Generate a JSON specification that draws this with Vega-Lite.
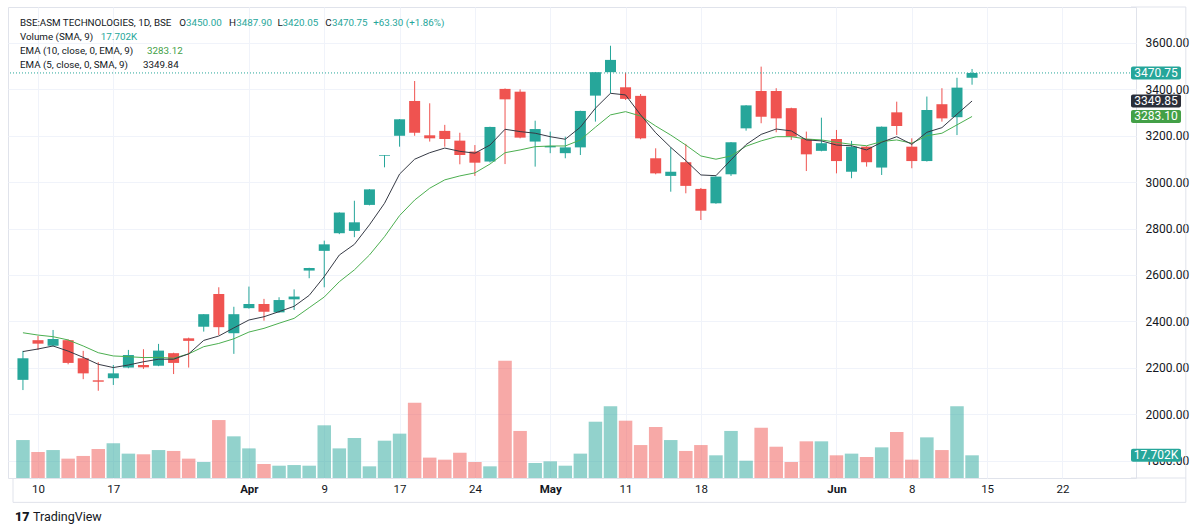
{
  "$schema": "https://vega.github.io/schema/vega-lite/v6.json",
  "width": 1128,
  "height": 471,
  "autosize": "none",
  "padding": {"left": 8, "top": 7, "right": 64, "bottom": 54},
  "background": "white",
  "config": {"view": {"stroke": "#e0e3eb"}, "font": "Roboto", "text": {"font": "Roboto"}},
  "datasets": {
    "k": [
      {"i":0,"o":2148,"h":2273,"l":2104,"c":2241,"v":29600,"e5":2270,"e10":2351},
      {"i":1,"o":2319,"h":2337,"l":2277,"c":2304,"v":20300,"e5":2281,"e10":2341},
      {"i":2,"o":2295,"h":2363,"l":2292,"c":2324,"v":21800,"e5":2294,"e10":2334},
      {"i":3,"o":2319,"h":2322,"l":2215,"c":2221,"v":15100,"e5":2272,"e10":2320},
      {"i":4,"o":2241,"h":2273,"l":2151,"c":2176,"v":17200,"e5":2245,"e10":2294},
      {"i":5,"o":2146,"h":2224,"l":2101,"c":2140,"v":22600,"e5":2215,"e10":2265},
      {"i":6,"o":2155,"h":2212,"l":2126,"c":2176,"v":27100,"e5":2201,"e10":2251},
      {"i":7,"o":2201,"h":2277,"l":2198,"c":2255,"v":19000,"e5":2212,"e10":2248},
      {"i":8,"o":2212,"h":2280,"l":2195,"c":2202,"v":18500,"e5":2226,"e10":2244},
      {"i":9,"o":2209,"h":2303,"l":2207,"c":2274,"v":21800,"e5":2237,"e10":2245},
      {"i":10,"o":2263,"h":2265,"l":2173,"c":2221,"v":21100,"e5":2237,"e10":2241},
      {"i":11,"o":2327,"h":2330,"l":2201,"c":2316,"v":15100,"e5":2260,"e10":2260},
      {"i":12,"o":2377,"h":2431,"l":2356,"c":2431,"v":12500,"e5":2318,"e10":2291},
      {"i":13,"o":2518,"h":2547,"l":2341,"c":2375,"v":45200,"e5":2337,"e10":2305},
      {"i":14,"o":2349,"h":2463,"l":2260,"c":2431,"v":32500,"e5":2372,"e10":2325},
      {"i":15,"o":2457,"h":2550,"l":2455,"c":2475,"v":23100,"e5":2406,"e10":2354},
      {"i":16,"o":2475,"h":2497,"l":2403,"c":2442,"v":10900,"e5":2420,"e10":2370},
      {"i":17,"o":2439,"h":2504,"l":2437,"c":2492,"v":9600,"e5":2442,"e10":2392},
      {"i":18,"o":2495,"h":2538,"l":2449,"c":2507,"v":10100,"e5":2465,"e10":2413},
      {"i":19,"o":2619,"h":2631,"l":2586,"c":2630,"v":9600,"e5":2512,"e10":2459},
      {"i":20,"o":2704,"h":2748,"l":2547,"c":2732,"v":41100,"e5":2593,"e10":2505},
      {"i":21,"o":2780,"h":2870,"l":2776,"c":2869,"v":23100,"e5":2686,"e10":2571},
      {"i":22,"o":2790,"h":2920,"l":2763,"c":2827,"v":31200,"e5":2732,"e10":2622},
      {"i":23,"o":2902,"h":2970,"l":2900,"c":2969,"v":9100,"e5":2816,"e10":2686},
      {"i":24,"o":3113,"h":3117,"l":3064,"c":3116,"v":29100,"e5":2909,"e10":2765},
      {"i":25,"o":3200,"h":3272,"l":3153,"c":3271,"v":34600,"e5":3035,"e10":2856},
      {"i":26,"o":3350,"h":3436,"l":3200,"c":3213,"v":58700,"e5":3099,"e10":2923},
      {"i":27,"o":3202,"h":3340,"l":3175,"c":3189,"v":15900,"e5":3127,"e10":2974},
      {"i":28,"o":3221,"h":3247,"l":3153,"c":3186,"v":14300,"e5":3147,"e10":3010},
      {"i":29,"o":3179,"h":3213,"l":3077,"c":3117,"v":19700,"e5":3133,"e10":3027},
      {"i":30,"o":3132,"h":3160,"l":3027,"c":3084,"v":12500,"e5":3125,"e10":3040},
      {"i":31,"o":3089,"h":3239,"l":3085,"c":3238,"v":9100,"e5":3160,"e10":3078},
      {"i":32,"o":3402,"h":3404,"l":3078,"c":3357,"v":91500,"e5":3228,"e10":3127},
      {"i":33,"o":3390,"h":3400,"l":3189,"c":3192,"v":36700,"e5":3218,"e10":3139},
      {"i":34,"o":3175,"h":3265,"l":3067,"c":3229,"v":11700,"e5":3211,"e10":3153},
      {"i":35,"o":3150,"h":3218,"l":3125,"c":3156,"v":13000,"e5":3196,"e10":3156},
      {"i":36,"o":3125,"h":3196,"l":3103,"c":3150,"v":9600,"e5":3185,"e10":3156},
      {"i":37,"o":3150,"h":3308,"l":3117,"c":3307,"v":19000,"e5":3237,"e10":3182},
      {"i":38,"o":3373,"h":3475,"l":3261,"c":3474,"v":43900,"e5":3319,"e10":3237},
      {"i":39,"o":3474,"h":3588,"l":3383,"c":3527,"v":55900,"e5":3383,"e10":3290},
      {"i":40,"o":3409,"h":3472,"l":3354,"c":3359,"v":44700,"e5":3376,"e10":3304},
      {"i":41,"o":3372,"h":3380,"l":3185,"c":3189,"v":25700,"e5":3290,"e10":3285},
      {"i":42,"o":3103,"h":3146,"l":3034,"c":3038,"v":39800,"e5":3213,"e10":3242},
      {"i":43,"o":3027,"h":3150,"l":2959,"c":3045,"v":29600,"e5":3150,"e10":3203},
      {"i":44,"o":3086,"h":3165,"l":2952,"c":2984,"v":21100,"e5":3093,"e10":3160},
      {"i":45,"o":2971,"h":2975,"l":2837,"c":2877,"v":25700,"e5":3031,"e10":3113},
      {"i":46,"o":2909,"h":3025,"l":2907,"c":3024,"v":17700,"e5":3028,"e10":3099},
      {"i":47,"o":3034,"h":3173,"l":3027,"c":3172,"v":36700,"e5":3096,"e10":3113},
      {"i":48,"o":3232,"h":3332,"l":3222,"c":3331,"v":13500,"e5":3162,"e10":3155},
      {"i":49,"o":3393,"h":3498,"l":3254,"c":3282,"v":39200,"e5":3206,"e10":3178},
      {"i":50,"o":3393,"h":3405,"l":3215,"c":3275,"v":24400,"e5":3229,"e10":3196},
      {"i":51,"o":3319,"h":3321,"l":3182,"c":3196,"v":12500,"e5":3221,"e10":3196},
      {"i":52,"o":3186,"h":3218,"l":3048,"c":3120,"v":28600,"e5":3182,"e10":3186},
      {"i":53,"o":3135,"h":3278,"l":3133,"c":3168,"v":28600,"e5":3178,"e10":3182},
      {"i":54,"o":3186,"h":3225,"l":3038,"c":3091,"v":17700,"e5":3160,"e10":3172},
      {"i":55,"o":3045,"h":3178,"l":3017,"c":3153,"v":19000,"e5":3157,"e10":3163},
      {"i":56,"o":3153,"h":3155,"l":3067,"c":3086,"v":16400,"e5":3139,"e10":3157},
      {"i":57,"o":3063,"h":3240,"l":3031,"c":3239,"v":23900,"e5":3172,"e10":3175},
      {"i":58,"o":3301,"h":3347,"l":3203,"c":3242,"v":35900,"e5":3196,"e10":3182},
      {"i":59,"o":3153,"h":3189,"l":3060,"c":3091,"v":14300,"e5":3163,"e10":3168},
      {"i":60,"o":3091,"h":3369,"l":3089,"c":3311,"v":31700,"e5":3215,"e10":3200},
      {"i":61,"o":3336,"h":3405,"l":3261,"c":3275,"v":21800,"e5":3235,"e10":3211},
      {"i":62,"o":3280,"h":3450,"l":3203,"c":3407.45,"v":55900,"e5":3293,"e10":3247},
      {"i":63,"o":3450,"h":3487.9,"l":3420.05,"c":3470.75,"v":17702,"e5":3349.84,"e10":3283.12}
    ]
  },
  "layer": [
    {
      "layer": [
        {
          "data": {"name": "k"},
          "mark": {"type": "bar", "size": 13.5},
          "encoding": {
            "x": {"field": "i", "type": "quantitative", "scale": {"domain": [-0.66, 73.55], "nice": false, "zero": false},
              "axis": {"values": [1,6,15,20,25,30,35,40,45,54,59,64,69],
                "labelExpr": "['10','17','Apr','9','17','24','May','11','18','Jun','8','15','22'][indexof([1,6,15,20,25,30,35,40,45,54,59,64,69], datum.value)]",
                "title": null, "grid": true, "gridColor": "#f0f3fa", "ticks": false, "tickSize": 0, "domain": false,
                "labelPadding": 5, "labelFontSize": 11.5, "labelColor": "#131722", "labelFont": "Roboto",
                "labelFontWeight": {"condition": {"test": "datum.value == 15 || datum.value == 35 || datum.value == 54", "value": "bold"}, "value": "normal"}}},
            "y": {"field": "v", "type": "quantitative", "scale": {"domain": [0, 367400], "nice": false}, "axis": null},
            "color": {"condition": {"test": "datum.c >= datum.o", "value": "#26a69a"}, "value": "#ef5350"},
            "opacity": {"value": 0.5}
          }
        },
        {
          "data": {"values": [{}]},
          "mark": {"type": "rect", "color": "#26a69a", "cornerRadius": 2},
          "encoding": {
            "x": {"datum": 73.55}, "x2": {"datum": 76.87},
            "y": {"datum": 12632, "axis": null}, "y2": {"datum": 22772}
          }
        },
        {
          "data": {"values": [{}]},
          "mark": {"type": "text", "text": "17.702K", "color": "white", "fontSize": 12, "align": "center", "baseline": "middle"},
          "encoding": {"x": {"datum": 75.21}, "y": {"datum": 17702, "axis": null}}
        }
      ]
    },
    {
      "layer": [
        {
          "data": {"name": "k"},
          "mark": {"type": "rule", "strokeWidth": 1},
          "encoding": {
            "x": {"field": "i", "type": "quantitative"},
            "y": {"field": "l", "type": "quantitative", "scale": {"domain": [1725, 3755], "nice": false, "zero": false},
              "axis": {"orient": "right", "values": [1800,2000,2200,2400,2600,2800,3000,3200,3400,3600], "format": ".2f", "title": null,
                "grid": true, "gridColor": "#f0f3fa", "ticks": false, "tickSize": 0, "domain": false, "labelPadding": 9,
                "labelFontSize": 12, "labelColor": "#131722", "labelFont": "Roboto", "labelAlign": "left"}},
            "y2": {"field": "h"},
            "color": {"condition": {"test": "datum.c >= datum.o", "value": "#26a69a"}, "value": "#ef5350"}
          }
        },
        {
          "data": {"name": "k"},
          "mark": {"type": "bar", "size": 11},
          "encoding": {
            "x": {"field": "i", "type": "quantitative"},
            "y": {"field": "o", "type": "quantitative"},
            "y2": {"field": "c"},
            "color": {"condition": {"test": "datum.c >= datum.o", "value": "#26a69a"}, "value": "#ef5350"}
          }
        },
        {
          "data": {"name": "k"},
          "mark": {"type": "line", "color": "#4caf50", "strokeWidth": 1},
          "encoding": {
            "x": {"field": "i", "type": "quantitative"},
            "y": {"field": "e10", "type": "quantitative"}
          }
        },
        {
          "data": {"name": "k"},
          "mark": {"type": "line", "color": "#363a45", "strokeWidth": 1},
          "encoding": {
            "x": {"field": "i", "type": "quantitative"},
            "y": {"field": "e5", "type": "quantitative"}
          }
        },
        {
          "data": {"values": [{}]},
          "mark": {"type": "rule", "color": "#26a69a", "strokeDash": [1, 2], "strokeWidth": 1},
          "encoding": {"y": {"datum": 3470.75}}
        },
        {
          "data": {"values": [{}]},
          "mark": {"type": "rule", "color": "#e0e3eb", "strokeWidth": 1},
          "encoding": {"x": {"datum": 77.19}, "y": {"datum": 3755}, "y2": {"datum": 1620}}
        },
        {
          "data": {"values": [{}]},
          "mark": {"type": "rule", "color": "#e0e3eb", "strokeWidth": 1},
          "encoding": {"x": {"datum": -0.66}, "x2": {"datum": 77.19}, "y": {"datum": 1620}}
        },
        {
          "data": {"values": [{}]},
          "mark": {"type": "rule", "color": "#e0e3eb", "strokeWidth": 1},
          "encoding": {"x": {"datum": 73.55}, "x2": {"datum": 77.19}, "y": {"datum": 3755}}
        },
        {
          "data": {"values": [{}]},
          "mark": {"type": "rule", "color": "#e0e3eb", "strokeWidth": 1},
          "encoding": {"x": {"datum": 73.55}, "x2": {"datum": 77.19}, "y": {"datum": 1725}}
        },
        {
          "data": {"values": [{}]},
          "mark": {"type": "rule", "color": "#e0e3eb", "strokeWidth": 1},
          "encoding": {"x": {"datum": -0.66}, "y": {"datum": 1725}, "y2": {"datum": 1620}}
        },
        {
          "data": {"values": [{}]},
          "mark": {"type": "rect", "color": "#26a69a", "cornerRadius": 2},
          "encoding": {"x": {"datum": 73.55}, "x2": {"datum": 76.87}, "y": {"datum": 3442.7}, "y2": {"datum": 3498.8}}
        },
        {
          "data": {"values": [{}]},
          "mark": {"type": "text", "text": "3470.75", "color": "white", "fontSize": 12, "align": "center", "baseline": "middle"},
          "encoding": {"x": {"datum": 75.21}, "y": {"datum": 3470.75}}
        },
        {
          "data": {"values": [{}]},
          "mark": {"type": "rect", "color": "#2a2e39", "cornerRadius": 2},
          "encoding": {"x": {"datum": 73.55}, "x2": {"datum": 76.87}, "y": {"datum": 3321.8}, "y2": {"datum": 3377.9}}
        },
        {
          "data": {"values": [{}]},
          "mark": {"type": "text", "text": "3349.85", "color": "white", "fontSize": 12, "align": "center", "baseline": "middle"},
          "encoding": {"x": {"datum": 75.21}, "y": {"datum": 3349.85}}
        },
        {
          "data": {"values": [{}]},
          "mark": {"type": "rect", "color": "#43a047", "cornerRadius": 2},
          "encoding": {"x": {"datum": 73.55}, "x2": {"datum": 76.87}, "y": {"datum": 3255.1}, "y2": {"datum": 3311.1}}
        },
        {
          "data": {"values": [{}]},
          "mark": {"type": "text", "text": "3283.10", "color": "white", "fontSize": 12, "align": "center", "baseline": "middle"},
          "encoding": {"x": {"datum": 75.21}, "y": {"datum": 3283.1}}
        },
        {
          "data": {"values": [{}]},
          "mark": {"type": "text", "text": "BSE:ASM TECHNOLOGIES, 1D, BSE", "color": "#131722", "fontSize": 9.8, "align": "left", "baseline": "alphabetic"},
          "encoding": {"x": {"datum": -0.197}, "y": {"datum": 3673.3}}
        },
        {
          "data": {"values": [{}]},
          "mark": {"type": "text", "text": "O", "color": "#131722", "fontSize": 9.8, "align": "left", "baseline": "alphabetic"},
          "encoding": {"x": {"datum": 10.37}, "y": {"datum": 3673.3}}
        },
        {
          "data": {"values": [{}]},
          "mark": {"type": "text", "text": "3450.00", "color": "#26a69a", "fontSize": 9.8, "align": "left", "baseline": "alphabetic"},
          "encoding": {"x": {"datum": 10.83}, "y": {"datum": 3673.3}}
        },
        {
          "data": {"values": [{}]},
          "mark": {"type": "text", "text": "H", "color": "#131722", "fontSize": 9.8, "align": "left", "baseline": "alphabetic"},
          "encoding": {"x": {"datum": 13.67}, "y": {"datum": 3673.3}}
        },
        {
          "data": {"values": [{}]},
          "mark": {"type": "text", "text": "3487.90", "color": "#26a69a", "fontSize": 9.8, "align": "left", "baseline": "alphabetic"},
          "encoding": {"x": {"datum": 14.16}, "y": {"datum": 3673.3}}
        },
        {
          "data": {"values": [{}]},
          "mark": {"type": "text", "text": "L", "color": "#131722", "fontSize": 9.8, "align": "left", "baseline": "alphabetic"},
          "encoding": {"x": {"datum": 16.9}, "y": {"datum": 3673.3}}
        },
        {
          "data": {"values": [{}]},
          "mark": {"type": "text", "text": "3420.05", "color": "#26a69a", "fontSize": 9.8, "align": "left", "baseline": "alphabetic"},
          "encoding": {"x": {"datum": 17.23}, "y": {"datum": 3673.3}}
        },
        {
          "data": {"values": [{}]},
          "mark": {"type": "text", "text": "C", "color": "#131722", "fontSize": 9.8, "align": "left", "baseline": "alphabetic"},
          "encoding": {"x": {"datum": 20.07}, "y": {"datum": 3673.3}}
        },
        {
          "data": {"values": [{}]},
          "mark": {"type": "text", "text": "3470.75", "color": "#26a69a", "fontSize": 9.8, "align": "left", "baseline": "alphabetic"},
          "encoding": {"x": {"datum": 20.51}, "y": {"datum": 3673.3}}
        },
        {
          "data": {"values": [{}]},
          "mark": {"type": "text", "text": "+63.30 (+1.86%)", "color": "#26a69a", "fontSize": 9.8, "align": "left", "baseline": "alphabetic"},
          "encoding": {"x": {"datum": 23.25}, "y": {"datum": 3673.3}}
        },
        {
          "data": {"values": [{}]},
          "mark": {"type": "text", "text": "Volume (SMA, 9)", "color": "#131722", "fontSize": 9.8, "align": "left", "baseline": "alphabetic"},
          "encoding": {"x": {"datum": -0.197}, "y": {"datum": 3612.9}}
        },
        {
          "data": {"values": [{}]},
          "mark": {"type": "text", "text": "17.702K", "color": "#26a69a", "fontSize": 9.8, "align": "left", "baseline": "alphabetic"},
          "encoding": {"x": {"datum": 5.17}, "y": {"datum": 3612.9}}
        },
        {
          "data": {"values": [{}]},
          "mark": {"type": "text", "text": "EMA (10, close, 0, EMA, 9)", "color": "#131722", "fontSize": 9.8, "align": "left", "baseline": "alphabetic"},
          "encoding": {"x": {"datum": -0.197}, "y": {"datum": 3551.3}}
        },
        {
          "data": {"values": [{}]},
          "mark": {"type": "text", "text": "3283.12", "color": "#43a047", "fontSize": 9.8, "align": "left", "baseline": "alphabetic"},
          "encoding": {"x": {"datum": 8.24}, "y": {"datum": 3551.3}}
        },
        {
          "data": {"values": [{}]},
          "mark": {"type": "text", "text": "EMA (5, close, 0, SMA, 9)", "color": "#131722", "fontSize": 9.8, "align": "left", "baseline": "alphabetic"},
          "encoding": {"x": {"datum": -0.197}, "y": {"datum": 3493.5}}
        },
        {
          "data": {"values": [{}]},
          "mark": {"type": "text", "text": "3349.84", "color": "#131722", "fontSize": 9.8, "align": "left", "baseline": "alphabetic"},
          "encoding": {"x": {"datum": 7.97}, "y": {"datum": 3493.5}}
        },
        {
          "data": {"values": [{}]},
          "mark": {"type": "text", "text": "17", "color": "#131722", "fontSize": 12.5, "fontWeight": 900, "align": "left", "baseline": "middle"},
          "encoding": {"x": {"datum": -0.53}, "y": {"datum": 1556}}
        },
        {
          "data": {"values": [{}]},
          "mark": {"type": "text", "text": "TradingView", "color": "#131722", "fontSize": 12.5, "align": "left", "baseline": "middle"},
          "encoding": {"x": {"datum": 0.66}, "y": {"datum": 1556}}
        }
      ]
    }
  ],
  "resolve": {"scale": {"y": "independent"}}
}
